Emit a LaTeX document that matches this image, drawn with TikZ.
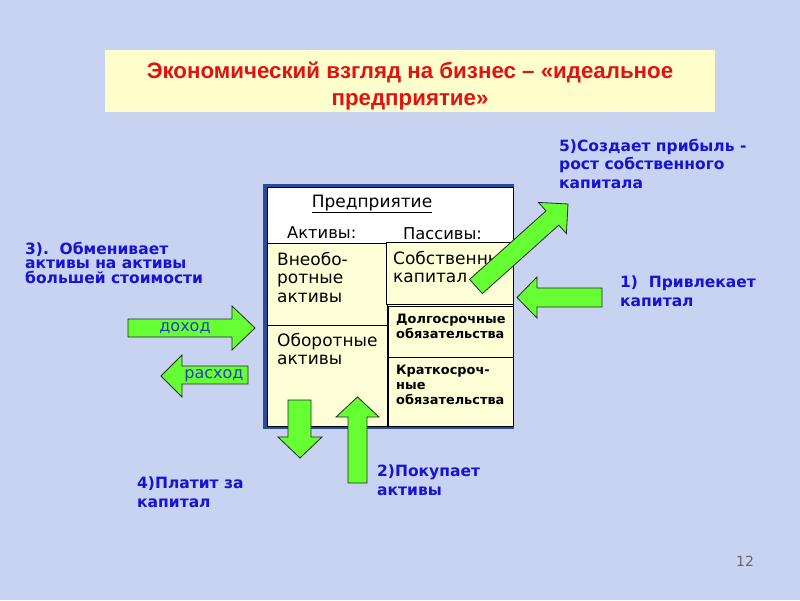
\documentclass[tikz,border=0pt]{standalone}
\usepackage{fontspec}
\setmainfont{DejaVu Sans}
\newfontfamily\titlef{Liberation Sans}
\definecolor{bg}{RGB}{200,210,241}
\definecolor{ttl}{RGB}{255,255,204}
\definecolor{cell}{RGB}{255,255,215}
\definecolor{tred}{RGB}{225,18,18}
\definecolor{lblue}{RGB}{20,20,210}
\definecolor{agreen}{RGB}{102,255,51}
\definecolor{shblue}{RGB}{40,75,160}
\definecolor{atext}{RGB}{40,60,190}
\tikzset{
  cellbox/.style={draw=black, line width=0.8pt, fill=cell, anchor=north west, inner sep=0pt},
  blockarrow/.style={draw=black!85, line width=0.8pt, fill=agreen},
  lbl/.style={anchor=north west, inner sep=0pt, align=left, text=lblue,
     font=\bfseries\fontsize{15.5}{14.5}\selectfont},
  lbl2/.style={anchor=north west, inner sep=0pt, align=left, text=lblue,
     font=\bfseries\fontsize{15.5}{18.5}\selectfont},
  boxtxt/.style={anchor=north west, inner sep=0pt, align=left, text=black,
     font=\fontsize{17}{18.5}\selectfont},
  headtxt/.style={anchor=north west, inner sep=0pt, align=left, text=black,
     font=\fontsize{16.3}{18.5}\selectfont},
  smalltxt/.style={anchor=north west, inner sep=0pt, align=left, text=black,
     font=\bfseries\fontsize{12.9}{15}\selectfont},
  arrtxt/.style={inner sep=0pt, text=atext, font=\fontsize{16}{18}\selectfont}
}
\begin{document}
\begin{tikzpicture}[x=1pt,y=-1pt]
\fill[bg] (0,0) rectangle (800,600);
\useasboundingbox (0,0) rectangle (800,600);
% title
\node[fill=ttl, anchor=north west, minimum width=610pt, minimum height=62pt, inner sep=0pt] (titlebox) at (105,50) {};
\node[align=center, text=tred, inner sep=0pt, font=\titlef\bfseries\fontsize{22.3}{27}\selectfont] (title) at (410,86)
  {Экономический взгляд на бизнес – «идеальное\\предприятие»};
% enterprise box
\fill[shblue] (263,184) rectangle (514,429);
\node[draw=black, line width=0.8pt, fill=white, anchor=north west, inner sep=0pt,
      minimum width=246pt, minimum height=239pt] (ent) at (267,187) {};
\node[cellbox, minimum width=120pt, minimum height=82pt] (vneob) at (267,243) {};
\node[cellbox, minimum width=120pt, minimum height=101pt] (obor) at (267,325) {};
\node[cellbox, minimum width=127pt, minimum height=62pt] (sobst) at (386,242) {};
\node[cellbox, minimum width=125pt, minimum height=51pt] (dolg) at (388,306) {};
\node[cellbox, minimum width=125pt, minimum height=69pt] (krat) at (388,357) {};
% box texts
\node[inner sep=0pt, font=\fontsize{17}{18}\selectfont, anchor=base] (pred) at (372,207) {\underline{Предприятие}};
\node[headtxt] (aktiv) at (287,226) {Активы:};
\node[headtxt] (passiv) at (403,227) {Пассивы:};
\node[boxtxt] (tvneob) at (277,252) {Внеобо-\\ротные\\активы};
\node[boxtxt] (tsobst) at (393,251) {Собственный\\капитал};
\node[boxtxt] (tobor) at (277,333) {Оборотные\\активы};
\node[smalltxt] (tdolg) at (396,314) {Долгосрочные\\обязательства};
\node[smalltxt] (tkrat) at (396,365) {Краткосроч-\\ные\\обязательства};
% block arrows
\draw[blockarrow] (128,319) -- (232,319) -- (232,306) -- (255,328) -- (232,350) -- (232,337) -- (128,337) -- cycle;
\node[arrtxt] (dohod) at (185,328) {доход};
\draw[blockarrow] (248,366) -- (182,366) -- (182,355) -- (161,376) -- (182,397) -- (182,384) -- (248,384) -- cycle;
\node[arrtxt] (rashod) at (214,376) {расход};
\draw[blockarrow] (288,400) -- (311,400) -- (311,437) -- (322,437) -- (300,458) -- (278,437) -- (288,437) -- cycle;
\draw[blockarrow] (348,483) -- (348,417) -- (336,417) -- (357.5,397) -- (379,417) -- (367,417) -- (367,483) -- cycle;
\draw[blockarrow] (602,288) -- (537,288) -- (537,277) -- (517,297.5) -- (537,318) -- (537,307) -- (602,307) -- cycle;
\draw[blockarrow] (469.6,279.4) -- (546,210.9) -- (538.4,202.4) -- (568,204) -- (566.4,233.6) -- (558.8,225.1) -- (482.4,293.6) -- cycle;
% blue labels
\node[lbl] (l3) at (25,242) {3).\ \ Обменивает\\активы на активы\\большей стоимости};
\node[lbl2] (l5) at (559,139) {5)Создает прибыль -\\рост собственного\\капитала};
\node[lbl2] (l1) at (620,276) {1)\ \ Привлекает\\капитал};
\node[lbl2] (l4) at (137,477) {4)Платит за\\капитал};
\node[lbl2] (l2) at (377,465) {2)Покупает\\активы};
\node[inner sep=0pt, text=black!60, font=\fontsize{14}{16}\selectfont] (pnum) at (745,561) {12};
\end{tikzpicture}
\end{document}
